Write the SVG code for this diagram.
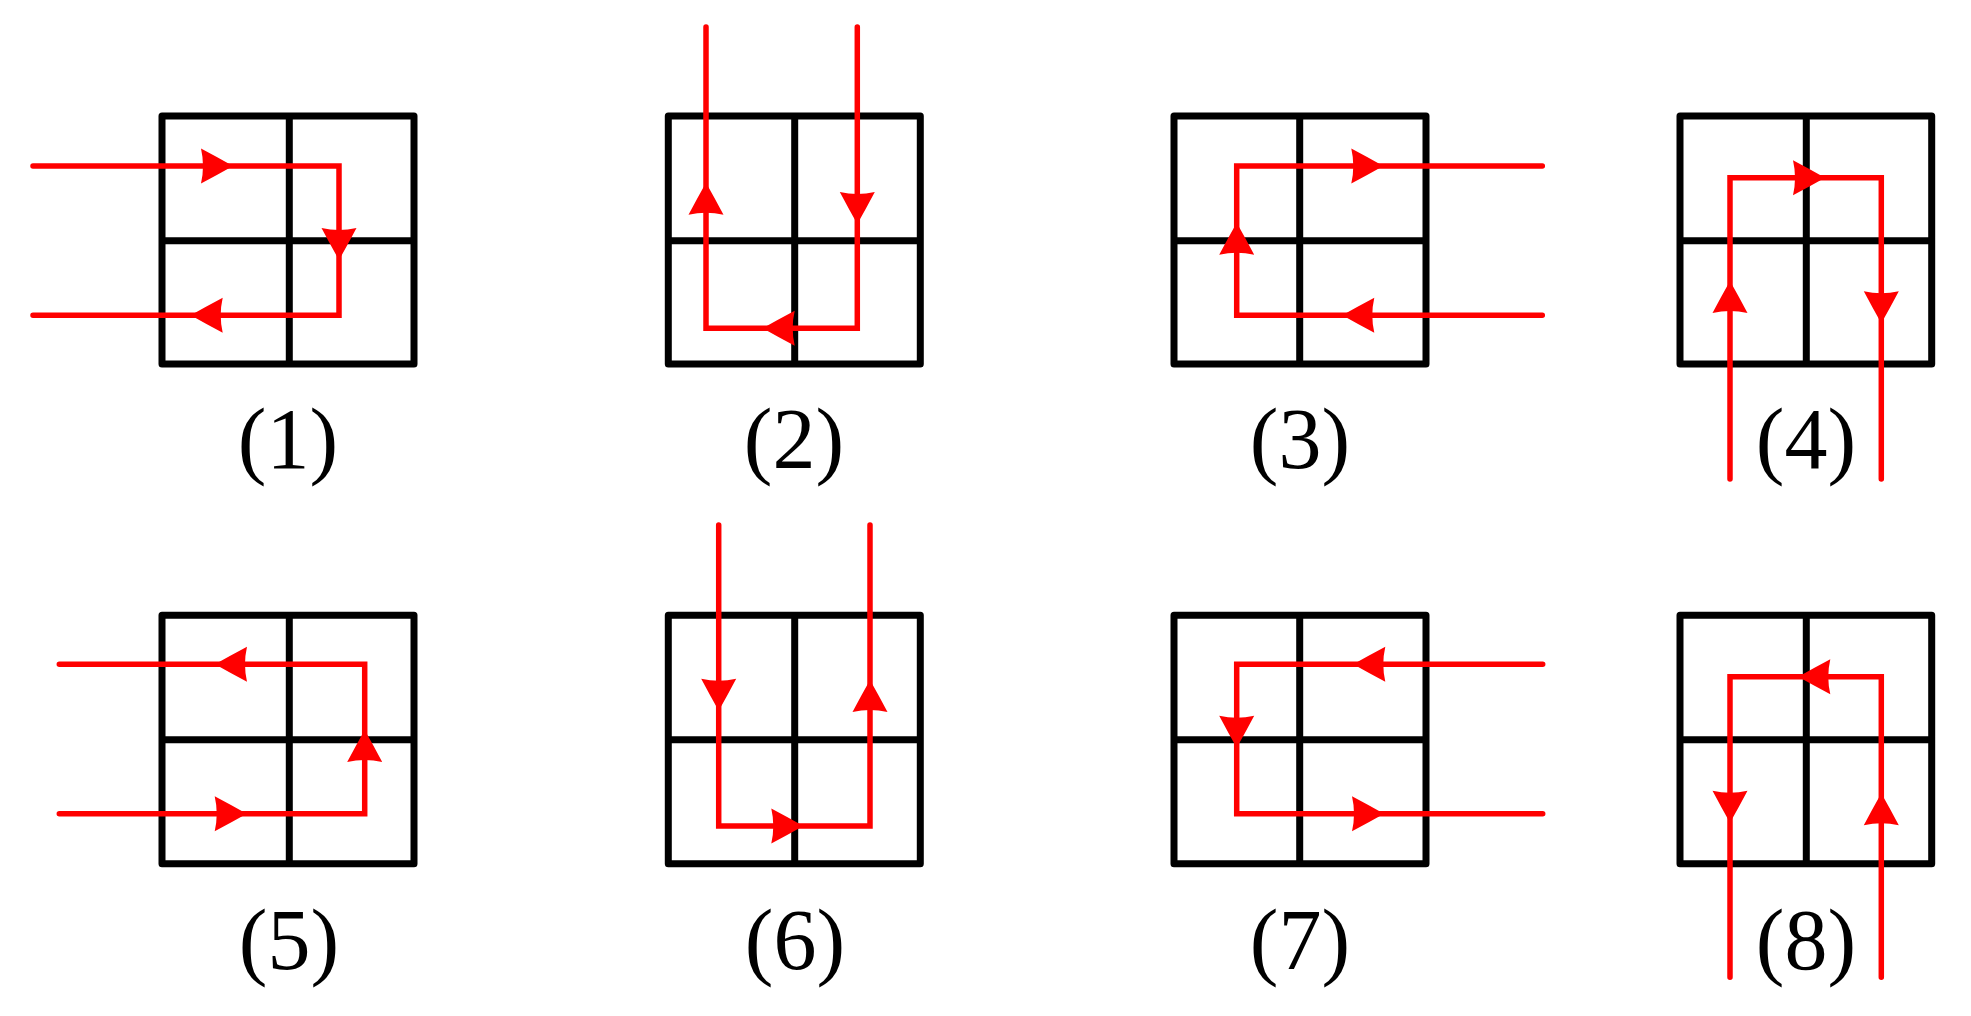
<svg xmlns="http://www.w3.org/2000/svg" xmlns:xlink="http://www.w3.org/1999/xlink" width="1971" height="1016" viewBox="0 0 1971 1016">
<style>
.grid{fill:none;stroke:#000;stroke-width:7;stroke-linejoin:round;stroke-linecap:butt}
.lbl{font-family:"Liberation Serif","Times New Roman",serif;font-size:86px;fill:#000;text-anchor:middle}
.wire{fill:none;stroke:#ff0000;stroke-width:5.5;stroke-linecap:round;stroke-linejoin:miter}
.ah{fill:#ff0000;stroke:none}
</style>
<defs>
<path id="ah" class="ah" d="M0,0 Q-15,-8.5 -32,-17.5 Q-28,0 -32,17.5 Q-15,8.5 0,0 Z"/>
</defs>
<rect width="1971" height="1016" fill="#fff"/>

<g id="panel1">
<path class="grid" d="M162,116 H414 V364 H162 Z M289.3,116 V364 M162,240.7 H414"/>
<text class="lbl" x="288" y="468">(1)</text>
</g>
<g id="panel2">
<path class="grid" d="M668.3,116 H920.3 V364 H668.3 Z M794.7,116 V364 M668.3,240.7 H920.3"/>
<text class="lbl" x="794" y="468">(2)</text>
</g>
<g id="panel3">
<path class="grid" d="M1174,116 H1426 V364 H1174 Z M1299.7,116 V364 M1174,240.7 H1426"/>
<text class="lbl" x="1300" y="468">(3)</text>
</g>
<g id="panel4">
<path class="grid" d="M1680,116 H1931.7 V364 H1680 Z M1806.3,116 V364 M1680,240.7 H1931.7"/>
<text class="lbl" x="1806" y="468">(4)</text>
</g>
<g id="panel5">
<path class="grid" d="M162,615.3 H414 V863.7 H162 Z M289.3,615.3 V863.7 M162,739.7 H414"/>
<text class="lbl" x="289" y="969">(5)</text>
</g>
<g id="panel6">
<path class="grid" d="M668.3,615.3 H920.3 V863.7 H668.3 Z M794.7,615.3 V863.7 M668.3,739.7 H920.3"/>
<text class="lbl" x="795" y="969">(6)</text>
</g>
<g id="panel7">
<path class="grid" d="M1174,615.3 H1426 V863.7 H1174 Z M1299.7,615.3 V863.7 M1174,739.7 H1426"/>
<text class="lbl" x="1300" y="969">(7)</text>
</g>
<g id="panel8">
<path class="grid" d="M1680,615.3 H1931.7 V863.7 H1680 Z M1806.3,615.3 V863.7 M1680,739.7 H1931.7"/>
<text class="lbl" x="1806" y="969">(8)</text>
</g>

<g id="connectors">
<path class="wire" d="M33,166 H339 V315.3 H33"/>
<use href="#ah" transform="translate(233,166)"/>
<use href="#ah" transform="translate(339,260) rotate(90)"/>
<use href="#ah" transform="translate(190.7,315.3) rotate(180)"/>

<path class="wire" d="M857.3,27 V328.3 H706 V27"/>
<use href="#ah" transform="translate(706,182.7) rotate(-90)"/>
<use href="#ah" transform="translate(857.3,224) rotate(90)"/>
<use href="#ah" transform="translate(762.7,328.3) rotate(180)"/>

<path class="wire" d="M1542.3,315.3 H1236.7 V166 H1542.3"/>
<use href="#ah" transform="translate(1383.3,166)"/>
<use href="#ah" transform="translate(1236.7,222.7) rotate(-90)"/>
<use href="#ah" transform="translate(1342.3,315.3) rotate(180)"/>

<path class="wire" d="M1730,479 V177.7 H1881.3 V479"/>
<use href="#ah" transform="translate(1825,177.7)"/>
<use href="#ah" transform="translate(1730,281) rotate(-90)"/>
<use href="#ah" transform="translate(1881.3,323.3) rotate(90)"/>

<path class="wire" d="M59.3,813.7 H364.7 V664.3 H59.3"/>
<use href="#ah" transform="translate(215,664.3) rotate(180)"/>
<use href="#ah" transform="translate(364.7,730) rotate(-90)"/>
<use href="#ah" transform="translate(246.7,813.7)"/>

<path class="wire" d="M718.7,525 V826 H870 V525"/>
<use href="#ah" transform="translate(718.7,710.7) rotate(90)"/>
<use href="#ah" transform="translate(870,680) rotate(-90)"/>
<use href="#ah" transform="translate(803.3,826)"/>

<path class="wire" d="M1542.7,664.3 H1236.7 V813.7 H1542.7"/>
<use href="#ah" transform="translate(1353.3,664.3) rotate(180)"/>
<use href="#ah" transform="translate(1236.7,747.7) rotate(90)"/>
<use href="#ah" transform="translate(1384,813.7)"/>

<path class="wire" d="M1881.3,977.3 V676.7 H1730 V977.3"/>
<use href="#ah" transform="translate(1798.3,676.7) rotate(180)"/>
<use href="#ah" transform="translate(1730,822.7) rotate(90)"/>
<use href="#ah" transform="translate(1881.3,793.3) rotate(-90)"/>
</g>
</svg>
